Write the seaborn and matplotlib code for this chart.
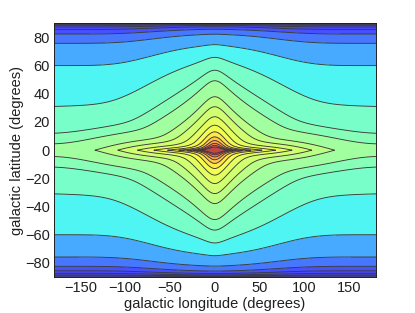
"""
Sky density of a simple Galaxy model (thin disk + inner bulge glow) in
galactic coordinates, drawn as filled log-contours in the old MATLAB jet
style. Writes out.png (415x313).
"""

import numpy as np
import matplotlib
matplotlib.use("Agg")
import matplotlib.pyplot as plt
import seaborn as sns

# ── axes / ticks ──────────────────────────────────────────────────────────────
LON_LIM = [-180, 180]
LAT_LIM = [-90, 90]
X_TICKS = [-150, -100, -50, 0, 50, 100, 150]
Y_TICKS = [-80, -60, -40, -20, 0, 20, 40, 60, 80]

# ── contour levels, given by where they cross a meridian in the reference ─────
# latitudes (deg) where the contours cut l = 180 ...
ANTI_CROSS_LAT = [89.3, 88.6, 87.4, 85.6, 82.4, 75.8, 60.0, 31.0, 12.0, 4.5]
# ... and where the inner ones cut l = 0
CENTER_CROSS_LAT = [37.9, 30.8, 23.7, 17.7, 13.0, 9.4, 6.8, 4.8, 3.3, 2.2]

# ── model parameters ──────────────────────────────────────────────────────────
# high-latitude glow toward the inner Galaxy:  h0 * ((1 + cos l) / 2)^n
GLOW_AMP = 0.75
GLOW_POW = 2.6
# bulge:  C * (1 + (l/l0)^2)^(-p/2) * exp(-(l/L)^2) * exp(-(hyp(b, bs) - bs) / beta)
BULGE_AMP = 317.0
BULGE_LON_CORE = 14.0     # deg
BULGE_LON_POW = 2.0
BULGE_LON_CUT = 110.0     # deg
BULGE_LAT_SCALE = 9.4     # deg
BULGE_LAT_SOFT = 4.0      # deg
# thin disk:  A(l) * exp(-|b| / w(l)),  A = A0 * exp(a (1 + cos l))
DISK_AMP_ANTI = 3.26
DISK_AMP_LIN = 2.1
DISK_W_ANTI = 6.9         # angular scale height at l = 180 (deg)
DISK_W_CENTER = 1.5       # angular scale height at l = 0 (deg)
DISK_W_POW = 1.5

# ── style ─────────────────────────────────────────────────────────────────────
# jet position of each band, from below the lowest level to above the highest
BAND_POS = [0.02, 0.05, 0.08, 0.11, 0.14, 0.19, 0.26, 0.36, 0.43, 0.46,
            0.50, 0.545, 0.58, 0.61, 0.64, 0.675, 0.72, 0.77, 0.83, 0.89,
            0.96]
FADE = 0.72               # jet blended with white
LINE_CLR = "#3a3a3a"
FONT = "Liberation Sans"


def log_sky(lon_deg, lat_deg):
    lr, br = np.radians(lon_deg), np.radians(lat_deg)
    cos_l = np.cos(lr)

    glow = GLOW_AMP * ((1 + cos_l) / 2) ** GLOW_POW

    lon_prof = (1 + (lon_deg / BULGE_LON_CORE) ** 2) ** (-BULGE_LON_POW / 2) \
        * np.exp(-(lon_deg / BULGE_LON_CUT) ** 2)
    db = np.hypot(lat_deg, BULGE_LAT_SOFT) - BULGE_LAT_SOFT
    bulge = BULGE_AMP * lon_prof * np.exp(-db / BULGE_LAT_SCALE)

    amp = DISK_AMP_ANTI * np.exp(DISK_AMP_LIN * (1 + cos_l))
    width = DISK_W_CENTER + (DISK_W_ANTI - DISK_W_CENTER) * \
        ((1 - cos_l) / 2) ** DISK_W_POW
    disk = amp * np.exp(-np.abs(lat_deg) / width)

    sky = np.cos(br) * (1 + glow + bulge + disk)
    return np.log10(np.clip(sky, 1e-6, None))


def main():
    sns.set_theme(style="ticks")
    plt.rcParams.update({
        "font.family": [FONT, "DejaVu Sans"],
        "font.size": 10.5,
        "axes.labelsize": 10.5,
        "xtick.labelsize": 10.5,
        "ytick.labelsize": 10.5,
        "axes.edgecolor": "#202020",
        "axes.linewidth": 0.7,
        "xtick.direction": "in",
        "ytick.direction": "in",
        "xtick.top": True,
        "ytick.right": True,
        "xtick.major.size": 3,
        "ytick.major.size": 3,
        "xtick.major.width": 0.6,
        "ytick.major.width": 0.6,
        "xtick.major.pad": 3,
        "ytick.major.pad": 2.5,
        "xtick.color": "#202020",
        "ytick.color": "#202020",
        "text.color": "#202020",
        "axes.labelcolor": "#202020",
        "contour.negative_linestyle": "solid",
    })

    lon = np.linspace(LON_LIM[0], LON_LIM[1], 721)
    lat = np.linspace(LAT_LIM[0], LAT_LIM[1], 901)
    LON, LAT = np.meshgrid(lon, lat)
    field = log_sky(LON, LAT)

    levels = sorted(
        [float(log_sky(180.0, b)) for b in ANTI_CROSS_LAT]
        + [float(log_sky(0.0, b)) for b in CENTER_CROSS_LAT]
    )

    jet = matplotlib.colormaps["jet"]
    band_colors = [FADE * np.array(jet(v)[:3]) + (1 - FADE) for v in BAND_POS]

    fig = plt.figure(figsize=(4.15, 3.13), dpi=100)
    ax = fig.add_axes([0.129, 0.115, 0.777, 0.8105])

    full = [-99] + levels + [99]
    ax.contourf(lon, lat, field, levels=full, colors=band_colors)
    ax.contour(lon, lat, field, levels=levels, colors=LINE_CLR,
               linewidths=0.65)

    ax.set_xlim(LON_LIM)
    ax.set_ylim(LAT_LIM)
    ax.set_xticks(X_TICKS)
    ax.set_yticks(Y_TICKS)
    ax.set_xlabel("galactic longitude (degrees)", labelpad=1)
    ax.set_ylabel("galactic latitude (degrees)", labelpad=1)
    for sp in ax.spines.values():
        sp.set_visible(True)

    fig.savefig("out.png", dpi=100)
    plt.close(fig)


if __name__ == "__main__":
    main()
